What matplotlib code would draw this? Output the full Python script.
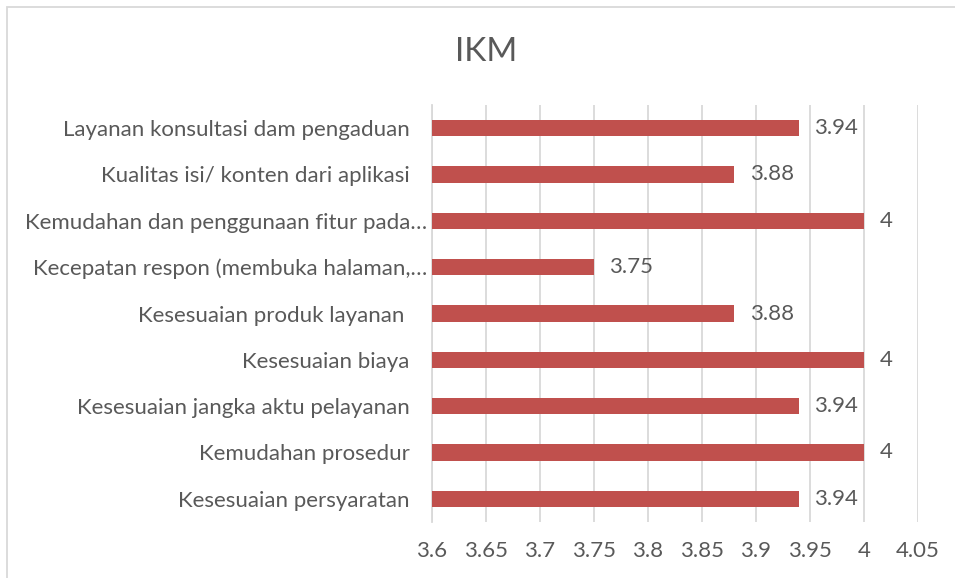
import numpy as np
import matplotlib.pyplot as plt
from matplotlib.patches import Rectangle
from matplotlib.transforms import ScaledTranslation

# data (bawah ke atas)
kategori = ['Kesesuaian persyaratan',
            'Kemudahan prosedur',
            'Kesesuaian jangka aktu pelayanan',
            'Kesesuaian biaya',
            'Kesesuaian produk layanan ',
            'Kecepatan respon (membuka halaman,…',
            'Kemudahan dan penggunaan fitur pada…',
            'Kualitas isi/ konten dari aplikasi',
            'Layanan konsultasi dam pengaduan']
nilai = [3.94, 4, 3.94, 4, 3.88, 3.75, 4, 3.88, 3.94]
label_nilai = ['3.94', '4', '3.94', '4', '3.88', '3.75', '4', '3.88', '3.94']
xticks = [3.6, 3.65, 3.7, 3.75, 3.8, 3.85, 3.9, 3.95, 4, 4.05]
xtick_label = ['3.6', '3.65', '3.7', '3.75', '3.8', '3.85', '3.9', '3.95', '4', '4.05']

plt.rcParams['font.family'] = ['Lato', 'DejaVu Sans']
abu = '#595959'
merah = '#C0504D'

ventana = plt.figure(figsize=(9.55, 5.78), dpi=100)
# bingkai chart (hanya kiri & atas terlihat)
ventana.patches.append(Rectangle((7/955, -0.1), 1.2, 1.1 - 7/578,
                                 transform=ventana.transFigure, fill=False,
                                 edgecolor='#d9d9d9', linewidth=1.3))
plano = ventana.add_axes([432/955, 1-522/578, 486/955, 417/578])

y = np.arange(len(kategori))
plano.barh(y, np.array(nilai) - 3.6, left=3.6, height=0.35, color=merah, zorder=3)
for i in range(len(nilai)):
    plano.annotate(label_nilai[i], (nilai[i], y[i]), xytext=(11, 0),
                   textcoords='offset points', va='center', ha='left',
                   fontsize=16, color=abu, zorder=4)

plano.set_xlim(3.6, 4.05)
plano.set_ylim(-0.5, len(kategori) - 0.5)
plano.set_xticks(xticks)
plano.set_xticklabels(xtick_label)
plano.set_yticks(y)
plano.set_yticklabels(kategori)
plano.tick_params(axis='both', length=0, labelsize=16, labelcolor=abu)
plano.tick_params(axis='x', pad=14)
plano.tick_params(axis='y', pad=16)
plano.grid(axis='x', color='#d9d9d9', linewidth=1.3, zorder=0)
for s in ['top', 'right', 'bottom']:
    plano.spines[s].set_visible(False)
plano.spines['left'].set_color('#d9d9d9')
plano.spines['left'].set_linewidth(1.3)

# label terpotong sedikit lebih ke kanan
geser = ScaledTranslation(17/100, 0, ventana.dpi_scale_trans)
for lab in plano.get_yticklabels():
    if lab.get_text().endswith('…'):
        lab.set_transform(lab.get_transform() + geser)

ventana.text(486/955, 1-52/578, 'IKM', ha='center', va='center', fontsize=24, color=abu)

ventana.savefig('out.png', dpi=100)
